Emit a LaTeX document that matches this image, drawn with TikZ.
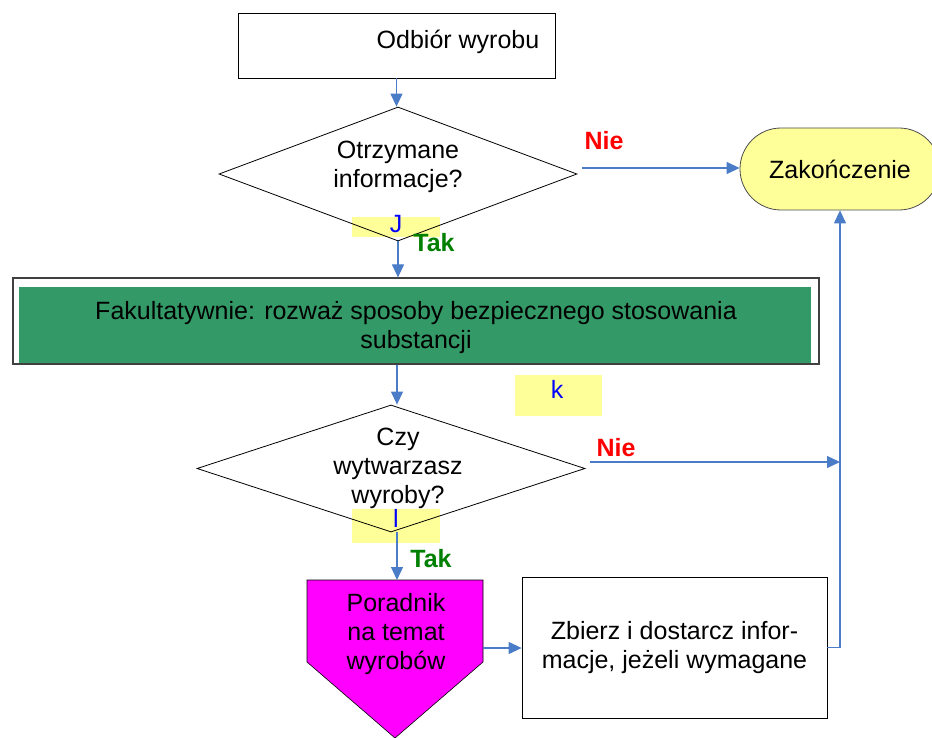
\documentclass[tikz,border=0pt]{standalone}
\usepackage{fontspec}
\setmainfont{Liberation Sans}
\usetikzlibrary{arrows.meta,shapes.geometric}
\definecolor{flowblue}{HTML}{4A7CC8}
\definecolor{paleyellow}{HTML}{FFFF99}
\definecolor{seagreen}{HTML}{339966}
\definecolor{okgreen}{HTML}{008000}
\definecolor{pink}{HTML}{FF00FF}
\begin{document}
\begin{tikzpicture}[x=1pt,y=-1pt,
  every node/.style={font=\fontsize{25}{29}\selectfont, inner sep=0pt, align=center},
  flow/.style={draw=flowblue, line width=1.2pt, -{Triangle[length=13pt,width=12pt]}},
  procbox/.style={draw=black, line width=0.8pt, rectangle},
  decision/.style={draw=black, line width=0.8pt, diamond},
  answer/.style={font=\fontsize{25}{29}\selectfont\bfseries, anchor=base},
  marker/.style={fill=paleyellow, draw=none},
  tag/.style={text=blue, anchor=base}
]
\useasboundingbox (0,0) rectangle (932,738);

% highlight patches behind the decision outlines
\fill[marker] (352,217) rectangle (440,237);
\fill[marker] (515,375) rectangle (602,416);
\fill[marker] (352,509) rectangle (440,543);

% start box
\node[procbox, minimum width=317, minimum height=65] (top) at (396.5,45.5) {};
\node (topt) at (458,42) {Odbiór wyrobu};

% first decision
\node[decision, minimum width=358, minimum height=134] (d1) at (398,174) {};
\node (d1t) at (398,167) {Otrzymane\\informacje?};

% end terminal
\node[draw=black!70, line width=0.8pt, fill=paleyellow, rounded corners=41pt,
      minimum width=200, minimum height=82] (term) at (840,169) {Zakończenie};

% optional step
\node[draw=black!75, line width=1.2pt, minimum width=806, minimum height=86] (big) at (416,321) {};
\node[fill=seagreen, minimum width=792, minimum height=76] (green) at (415,325) {};
\node (greent) at (416,328) {Fakultatywnie: rozważ sposoby bezpiecznego stosowania\\substancji};

% second decision
\node[decision, minimum width=388, minimum height=127] (d2) at (391,468.5) {};
\node (d2t) at (398,468) {Czy\\wytwarzasz\\wyroby?};

% guidance connector shape
\fill[pink] (307,580) -- (483,580) -- (483,662) -- (395,738) -- (307,662) -- cycle;
\draw[black, line width=0.6pt] (307,580) -- (483,580) -- (483,662) -- (395,738) -- (307,662) -- cycle;
\node (pent) at (396,634) {Poradnik\\na temat\\wyrobów};
\coordinate (penttop) at (397,580);
\coordinate (pentright) at (483,648);

% collect-information box
\node[procbox, minimum width=305, minimum height=141] (zb) at (674.5,647.5) {Zbierz i dostarcz infor-\\macje, jeżeli wymagane};

% connectors
\coordinate (n1) at (582,168);
\coordinate (n2) at (590,462);
\draw[flow] (top.south) -- (top.south |- d1.north);
\draw[flow] (d1.south) -- (d1.south |- big.north);
\draw[flow] (big.south -| penttop) -- (penttop |- d2.north);
\draw[flow] (d2.south -| penttop) -- (penttop);
\draw[flow] (pentright) -- (zb.west |- pentright);
\draw[flow] (n1) -- (term.west |- n1);
\draw[flow] (n2) -- (n2 -| term.south);
\draw[flow] (zb.east) -| (term.south);

% answer labels
\node[answer, text=red] (nie1) at (604,150) {Nie};
\node[answer, text=red] (nie2) at (616,456) {Nie};
\node[answer, text=okgreen] (tak1) at (434,252) {Tak};
\node[answer, text=okgreen] (tak2) at (431,567) {Tak};

% marker letters
\node[tag] (tagj) at (396,233) {J};
\node[tag] (tagk) at (557,398) {k};
\node[tag] (tagl) at (396,527) {l};
\end{tikzpicture}
\end{document}
